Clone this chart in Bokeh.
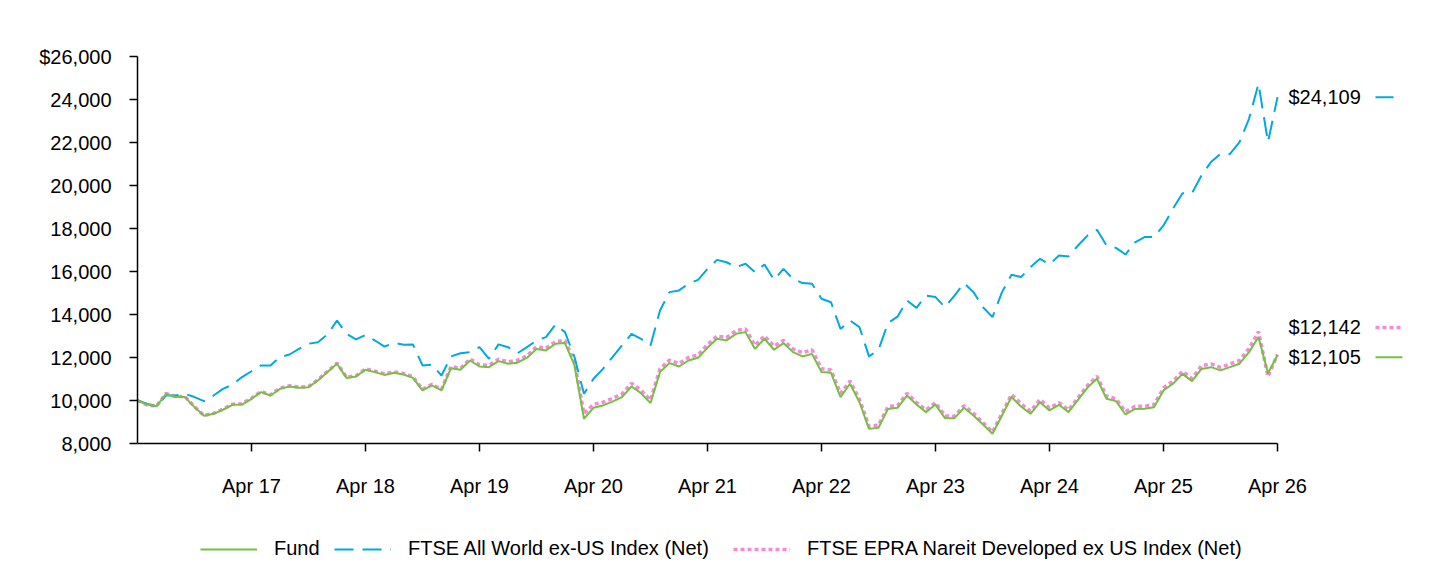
from bokeh.plotting import figure
from bokeh.layouts import column
from bokeh.models import Range1d, FixedTicker, Legend, LegendItem, Label
from bokeh.embed import file_html
from bokeh.resources import INLINE

# Monthly growth of a $10,000 investment, Apr 2016 .. Apr 2026 (month index 0..120)
months = list(range(121))

fund = [
    10000, 9810, 9730, 10310, 10160, 10160, 9690, 9290, 9380, 9570,
    9800, 9810, 10080, 10390, 10230, 10540, 10650, 10590, 10620, 10930,
    11320, 11710, 11050, 11120, 11430, 11320, 11190, 11290, 11210, 11050,
    10470, 10700, 10470, 11500, 11430, 11860, 11580, 11550, 11830, 11710,
    11760, 11990, 12400, 12330, 12640, 12670, 11630, 9150, 9660, 9770,
    9950, 10160, 10650, 10340, 9880, 11320, 11740, 11580, 11860, 11990,
    12450, 12870, 12790, 13100, 13180, 12400, 12870, 12360, 12670, 12250,
    12050, 12170, 11320, 11290, 10160, 10780, 9920, 8680, 8730, 9610,
    9660, 10230, 9810, 9460, 9810, 9180, 9180, 9660, 9300, 8880,
    8450, 9300, 10160, 9720, 9380, 9920, 9540, 9800, 9460, 10030,
    10600, 11010, 10080, 9970, 9350, 9610, 9620, 9690, 10470, 10780,
    11240, 10900, 11470, 11550, 11400, 11550, 11710, 12250, 12950, 11270,
    12105,
]

all_world = [
    10000, 9850, 9720, 10230, 10230, 10310, 10160, 9970, 10230, 10540,
    10740, 11090, 11360, 11630, 11630, 12020, 12140, 12400, 12640, 12710,
    13070, 13720, 13100, 12840, 13050, 12790, 12510, 12680, 12590, 12600,
    11630, 11670, 11160, 12050, 12200, 12250, 12480, 11940, 12610, 12480,
    12200, 12480, 12790, 12950, 13540, 13180, 12020, 10310, 11010, 11470,
    12020, 12560, 13100, 12870, 12560, 14190, 15040, 15120, 15430, 15610,
    16120, 16540, 16430, 16200, 16360, 15970, 16330, 15610, 16120, 15660,
    15460, 15430, 14730, 14570, 13330, 13720, 13410, 12050, 12360, 13600,
    13900, 14650, 14310, 14880, 14810, 14340, 14880, 15460, 15040, 14340,
    13880, 15040, 15850, 15740, 16200, 16590, 16330, 16740, 16700, 17210,
    17670, 17940, 17210, 17100, 16790, 17360, 17600, 17600, 18140, 18920,
    19640, 19640, 20470, 21090, 21470, 21470, 22020, 23100, 24730, 22020,
    24109,
]

epra = [
    10000, 9790, 9740, 10330, 10180, 10190, 9710, 9300, 9400, 9600,
    9830, 9850, 10110, 10420, 10260, 10580, 10690, 10620, 10650, 10970,
    11360, 11740, 11090, 11150, 11470, 11360, 11240, 11330, 11260, 11100,
    10520, 10750, 10520, 11580, 11500, 11940, 11660, 11640, 11920, 11800,
    11870, 12080, 12500, 12430, 12740, 12790, 11800, 9380, 9820, 9920,
    10100, 10300, 10800, 10480, 10020, 11480, 11880, 11720, 12000, 12120,
    12600, 13000, 12930, 13250, 13330, 12560, 13010, 12520, 12800, 12400,
    12220, 12360, 11480, 11420, 10330, 10900, 10060, 8800, 8850, 9720,
    9760, 10340, 9900, 9560, 9900, 9280, 9270, 9760, 9400, 8970,
    8540, 9400, 10280, 9850, 9500, 10050, 9650, 9900, 9560, 10120,
    10700, 11130, 10200, 10080, 9480, 9730, 9730, 9800, 10580, 10900,
    11360, 11020, 11620, 11700, 11540, 11700, 11860, 12420, 13200, 11120,
    12142,
]

series_names = ["Fund", "FTSE All World ex-US Index (Net)",
                "FTSE EPRA Nareit Developed ex US Index (Net)"]

x_tick_pos = [12, 24, 36, 48, 60, 72, 84, 96, 108, 120]
x_tick_labels = ["Apr 17", "Apr 18", "Apr 19", "Apr 20", "Apr 21",
                 "Apr 22", "Apr 23", "Apr 24", "Apr 25", "Apr 26"]
y_ticks = [8000, 10000, 12000, 14000, 16000, 18000, 20000, 22000, 24000, 26000]
y_tick_labels = ["8,000", "10,000", "12,000", "14,000", "16,000",
                 "18,000", "20,000", "22,000", "24,000", "$26,000"]

GREEN = "#76C043"
BLUE = "#00A9E0"
PINK = "#F58BD8"
FONT = "Liberation Sans"
FS = "20px"

# chart area: months 0..120 span 1140 px, extra room on the right for end labels
W = 1440
CHART_H, LEGEND_H = 524, 40
LEFT, RIGHT, TOP, BOTTOM = 137, 20, 56, 81
frame_w = W - LEFT - RIGHT
frame_h = CHART_H - TOP - BOTTOM
px_per_month = 1140 / 120
x_end = frame_w / px_per_month
y0, y1 = 8000, 26000
val_per_px = (y1 - y0) / frame_h

p = figure(width=W, height=CHART_H, output_backend="svg", toolbar_location=None,
           x_range=Range1d(0, x_end), y_range=Range1d(y0, y1),
           min_border_left=LEFT, min_border_right=RIGHT,
           min_border_top=TOP, min_border_bottom=BOTTOM)
p.outline_line_color = None
p.xgrid.visible = False
p.ygrid.visible = False

for ax in (p.xaxis[0], p.yaxis[0]):
    ax.axis_line_color = "black"
    ax.axis_line_width = 1.5
    ax.major_tick_line_color = "black"
    ax.major_tick_line_width = 1.5
    ax.major_tick_in = 0
    ax.major_tick_out = 8
    ax.minor_tick_line_color = None
    ax.major_label_text_font = FONT
    ax.major_label_text_font_size = FS
    ax.major_label_text_color = "black"

p.xaxis.ticker = FixedTicker(ticks=x_tick_pos)
p.xaxis.major_label_overrides = dict(zip(x_tick_pos, x_tick_labels))
p.xaxis.bounds = (0, 120)
p.xaxis.major_label_standoff = 23

p.yaxis.ticker = FixedTicker(ticks=y_ticks)
p.yaxis.major_label_overrides = dict(zip(y_ticks, y_tick_labels))
p.yaxis.bounds = (y0, y1)
p.yaxis.major_label_standoff = 18

styles = [
    dict(line_color=GREEN, line_width=2),
    dict(line_color=BLUE, line_width=2, line_dash="19 9"),
    dict(line_color=PINK, line_width=3.5, line_dash="4 3"),
]
series = [fund, all_world, epra]

p.line(months, epra, **styles[2])
p.line(months, all_world, **styles[1])
p.line(months, fund, **styles[0])

# end-of-period value labels with a short line sample after each
last = months[-1]
end_rows = [
    (all_world[-1], 0, styles[1], 18),
    (epra[-1], 27, styles[2], 27),
    (fund[-1], -2, styles[0], 27),
]
for val, dy, st, sample_w in end_rows:
    p.add_layout(Label(x=last, y=val, x_offset=11, y_offset=dy,
                       text=f"${val:,}", text_baseline="middle",
                       text_font=FONT, text_font_size=FS, text_color="black"))
    ys = val + dy * val_per_px
    xs0 = last + 98 / px_per_month
    xs1 = xs0 + sample_w / px_per_month
    sample = dict(st)
    if sample["line_width"] < 3:
        sample.pop("line_dash", None)
    p.line([xs0, xs1], [ys, ys], **sample)

# legend strip under the chart; its key lines fall outside its own view
lg = figure(width=W, height=LEGEND_H, output_backend="svg", toolbar_location=None,
            x_range=Range1d(0, 1), y_range=Range1d(0, 1),
            x_axis_type=None, y_axis_type=None,
            min_border_left=LEFT, min_border_right=RIGHT,
            min_border_top=0, min_border_bottom=0)
lg.outline_line_color = None
lg.xgrid.visible = False
lg.ygrid.visible = False

key_starts = [200, 334, 733]  # page x of each legend key
for name, st, vals, x0 in zip(series_names, styles, series, key_starts):
    r = lg.line(months, vals, **st)
    lg.add_layout(Legend(items=[LegendItem(label=name, renderers=[r])],
                         orientation="horizontal", location=(x0 - LEFT, 4),
                         glyph_width=57, glyph_height=20, label_standoff=17,
                         padding=0, margin=0, border_line_color=None,
                         background_fill_alpha=0, label_text_color="black",
                         label_text_font=FONT, label_text_font_size=FS))

open("out.html", "w").write(file_html(column(p, lg, spacing=0), INLINE))
